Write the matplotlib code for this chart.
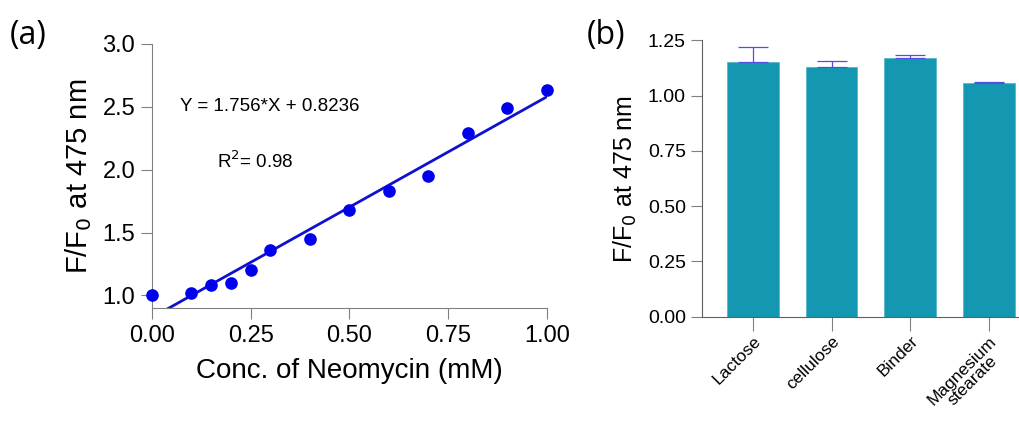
import numpy as np
import matplotlib
matplotlib.use("Agg")
import matplotlib.pyplot as plt

plt.rcParams['font.family'] = ['Liberation Sans', 'DejaVu Sans']

# panel (a) data
conc = [0.0, 0.1, 0.15, 0.2, 0.25, 0.3, 0.4, 0.5, 0.6, 0.7, 0.8, 0.9, 1.0]
ratio = [1.00, 1.02, 1.08, 1.10, 1.20, 1.36, 1.45, 1.68, 1.83, 1.95, 2.29, 2.49, 2.63]
slope = 1.756
intercept = 0.8236

# panel (b) data
excipients = ['Lactose', 'cellulose', 'Binder', 'Magnesium\nstearate']
excipient_ratio = [1.15, 1.13, 1.17, 1.055]
excipient_err = [0.07, 0.028, 0.015, 0.008]

spine_col = '#808080'

fig = plt.figure(figsize=(10.2, 4.23), dpi=100)

# ---- (a) ----
ax1 = fig.add_axes([0.149, 0.272, 0.387, 0.624])
ax1.scatter(conc, ratio, s=65, color='#0000ee', zorder=3, clip_on=False)
xf = np.linspace(0, 1, 100)
ax1.plot(xf, slope * xf + intercept, color='#1010d0', lw=2)
ax1.set_xlim(0, 1)
ax1.set_ylim(0.9, 3.0)
ax1.set_xticks([0, 0.25, 0.5, 0.75, 1.0])
ax1.set_xticklabels(['0.00', '0.25', '0.50', '0.75', '1.00'])
ax1.set_yticks([1.0, 1.5, 2.0, 2.5, 3.0])
ax1.tick_params(labelsize=17, length=8, color=spine_col, pad=4)
for s in ['top', 'right']:
    ax1.spines[s].set_visible(False)
for s in ['left', 'bottom']:
    ax1.spines[s].set_color(spine_col)
ax1.set_xlabel('Conc. of Neomycin (mM)', fontsize=20, labelpad=8)
ax1.set_ylabel(r'F/F$_0$ at 475 nm', fontsize=21, labelpad=6)
ax1.text(0.07, 2.5, 'Y = 1.756*X + 0.8236', fontsize=13.5, va='center')
ax1.text(0.165, 2.07, r'R$^2$= 0.98', fontsize=13.5, va='center')
fig.text(0.010, 0.895, '(a)', fontsize=23, family=['Open Sans', 'DejaVu Sans'])

# ---- (b) ----
ax2 = fig.add_axes([0.688, 0.251, 0.32, 0.654])
xpos = np.arange(len(excipients))
ax2.bar(xpos, excipient_ratio, width=0.66, color='#1497b0', edgecolor='#5ab8c8', lw=0.6)
ax2.errorbar(xpos, excipient_ratio, yerr=[np.zeros(4), excipient_err], fmt='none',
             ecolor='#5050e0', elinewidth=0.9, capsize=11, capthick=0.9)
ax2.set_xlim(-0.65, 3.5)
ax2.set_ylim(0, 1.25)
ax2.set_yticks([0, 0.25, 0.5, 0.75, 1.0, 1.25])
ax2.set_yticklabels(['0.00', '0.25', '0.50', '0.75', '1.00', '1.25'])
ax2.set_xticks(xpos)
ax2.set_xticklabels(excipients, rotation=45, ha='right', rotation_mode='anchor',
                    fontsize=12.5, multialignment='center', linespacing=0.95)
ax2.tick_params(axis='y', labelsize=14, length=8, color=spine_col)
ax2.tick_params(axis='x', length=10, color=spine_col, pad=2)
for s in ['top', 'right']:
    ax2.spines[s].set_visible(False)
for s in ['left', 'bottom']:
    ax2.spines[s].set_color('#606060')
ax2.set_ylabel(r'F/F$_0$ at 475 nm', fontsize=18, labelpad=6)
fig.text(0.575, 0.895, '(b)', fontsize=23, family=['Open Sans', 'DejaVu Sans'])

fig.savefig('out.png', dpi=100)
